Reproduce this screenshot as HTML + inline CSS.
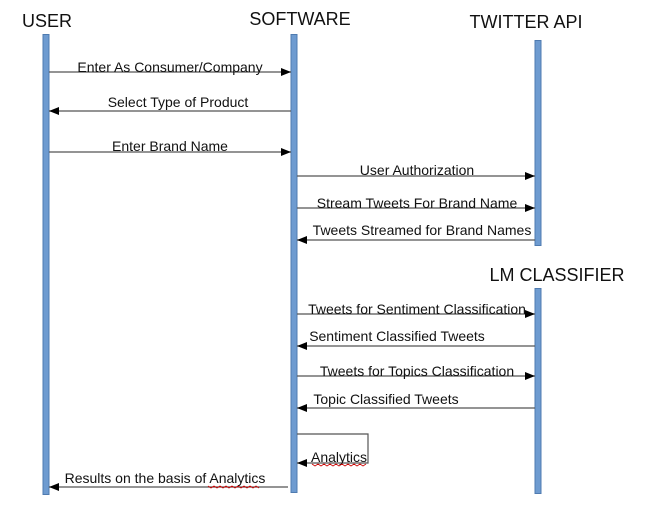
<!DOCTYPE html>
<html><head><style>body{margin:0;background:#fff}svg{display:block}text{font-family:"Liberation Sans",sans-serif;fill:#111}</style></head>
<body>
<svg width="661" height="510" viewBox="0 0 661 510">
<defs><marker id="a" markerWidth="10" markerHeight="8" refX="10" refY="4" orient="auto" markerUnits="userSpaceOnUse"><path d="M0,0L10,4L0,8z" fill="#000"/></marker></defs>
<g font-size="18">
<text x="22" y="27">USER</text>
<text x="300" y="25" text-anchor="middle">SOFTWARE</text>
<text x="526" y="28" text-anchor="middle">TWITTER API</text>
<text x="557" y="281" text-anchor="middle">LM CLASSIFIER</text>
</g>
<g fill="#6e9bd0" stroke="#4f7bb0" stroke-width="1">
<rect x="43" y="34.5" width="6" height="460"/>
<rect x="291" y="34.5" width="6" height="458"/>
<rect x="535" y="40.5" width="6" height="205"/>
<rect x="535" y="288.5" width="6" height="205"/>
</g>
<g stroke="#555" stroke-width="1.2" fill="none" marker-end="url(#a)">
<line x1="49" y1="72" x2="291" y2="72"/>
<line x1="291" y1="111" x2="49" y2="111"/>
<line x1="49" y1="152" x2="291" y2="152"/>
<line x1="297" y1="176" x2="535" y2="176"/>
<line x1="297" y1="208" x2="535" y2="208"/>
<line x1="535" y1="240" x2="297" y2="240"/>
<line x1="297" y1="314" x2="535" y2="314"/>
<line x1="535" y1="346" x2="297" y2="346"/>
<line x1="297" y1="376" x2="535" y2="376"/>
<line x1="535" y1="408" x2="297" y2="408"/>
<polyline points="297,434 368,434 368,463 297,463"/>
<line x1="288" y1="487" x2="49" y2="487"/>
</g>
<g font-size="14" text-anchor="middle">
<text x="170" y="72">Enter As Consumer/Company</text>
<text x="178" y="107">Select Type of Product</text>
<text x="170" y="151">Enter Brand Name</text>
<text x="417" y="175">User Authorization</text>
<text x="417" y="208">Stream Tweets For Brand Name</text>
<text x="422" y="235">Tweets Streamed for Brand Names</text>
<text x="417" y="314">Tweets for Sentiment Classification</text>
<text x="397" y="341">Sentiment Classified Tweets</text>
<text x="417" y="376">Tweets for Topics Classification</text>
<text x="386" y="404">Topic Classified Tweets</text>
<text x="339" y="462">Analytics</text>
<text x="165" y="483">Results on the basis of Analytics</text>
</g>
<path d="M312,464 l3,2 l3,-2 l3,2 l3,-2 l3,2 l3,-2 l3,2 l3,-2 l3,2 l3,-2 l3,2 l3,-2 l3,2 l3,-2 l3,2 l3,-2 l3,2 l3,-2" stroke="#c00" stroke-width="0.8" fill="none"/>
<path d="M208,486 l3,2 l3,-2 l3,2 l3,-2 l3,2 l3,-2 l3,2 l3,-2 l3,2 l3,-2 l3,2 l3,-2 l3,2 l3,-2 l3,2 l3,-2 l3,2" stroke="#c00" stroke-width="0.8" fill="none"/>
</svg>
</body></html>
